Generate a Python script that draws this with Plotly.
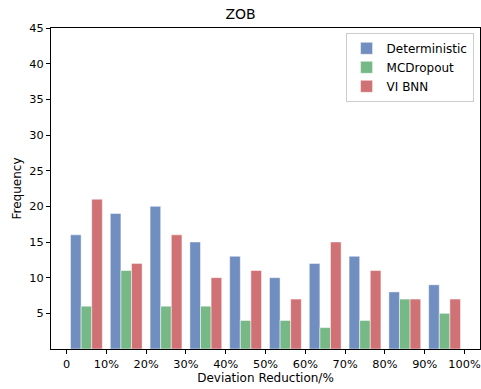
import plotly.graph_objects as go

bin_centers = [5, 15, 25, 35, 45, 55, 65, 75, 85, 95]
deterministic = [16, 19, 20, 15, 13, 10, 12, 13, 8, 9]
mcdropout = [6, 11, 6, 6, 4, 4, 3, 4, 7, 5]
vi_bnn = [21, 12, 16, 10, 11, 7, 15, 11, 7, 7]
tick_vals = [0, 10, 20, 30, 40, 50, 60, 70, 80, 90, 100]
tick_text = ["0", "10%", "20%", "30%", "40%", "50%", "60%", "70%", "80%", "90%", "100%"]
y_ticks = [5, 10, 15, 20, 25, 30, 35, 40, 45]

series = [
    ("Deterministic", deterministic, "rgb(112,142,192)"),
    ("MCDropout", mcdropout, "rgb(119,185,134)"),
    ("VI BNN", vi_bnn, "rgb(208,113,117)"),
]

fig = go.Figure()
for name, vals, col in series:
    fig.add_trace(go.Bar(
        x=bin_centers, y=vals, name=name,
        marker=dict(color=col, line=dict(color="rgba(255,255,255,0.6)", width=0.8)),
    ))

FAM = "DejaVu Sans"
fig.update_layout(
    width=481, height=389,
    margin=dict(l=51, r=1, t=28, b=40),
    paper_bgcolor="white", plot_bgcolor="white",
    barmode="group", bargap=0.2, bargroupgap=0,
    font=dict(family=FAM, size=12, color="black"),
    title=dict(text="ZOB", x=0.5, xanchor="center", y=1 - 14 / 389, yanchor="middle",
               font=dict(family=FAM, size=14, color="black")),
    legend=dict(x=0.985, xanchor="right", y=0.985, yanchor="top",
                bgcolor="rgba(255,255,255,0.8)", bordercolor="#cccccc", borderwidth=1,
                font=dict(family=FAM, size=12, color="black"),
                itemwidth=30, tracegroupgap=0),
    showlegend=True,
)
fig.update_xaxes(
    range=[-3.9, 103.9], tickvals=tick_vals, ticktext=tick_text,
    ticks="outside", ticklen=4, tickcolor="black", showgrid=False, zeroline=False,
    showline=True, linecolor="black", linewidth=1, mirror=True,
    ticklabeloverflow="allow",
    title=dict(text="Deviation Reduction/%", standoff=3, font=dict(family=FAM, size=12)),
    tickfont=dict(family=FAM, size=11.3),
)
fig.update_yaxes(
    range=[0, 45], tickvals=y_ticks,
    ticks="outside", ticklen=4, tickcolor="black", showgrid=False, zeroline=False,
    showline=True, linecolor="black", linewidth=1, mirror=True,
    title=dict(text="Frequency", standoff=5, font=dict(family=FAM, size=12)),
    tickfont=dict(family=FAM, size=11.3),
)
fig.write_html("out.html")
